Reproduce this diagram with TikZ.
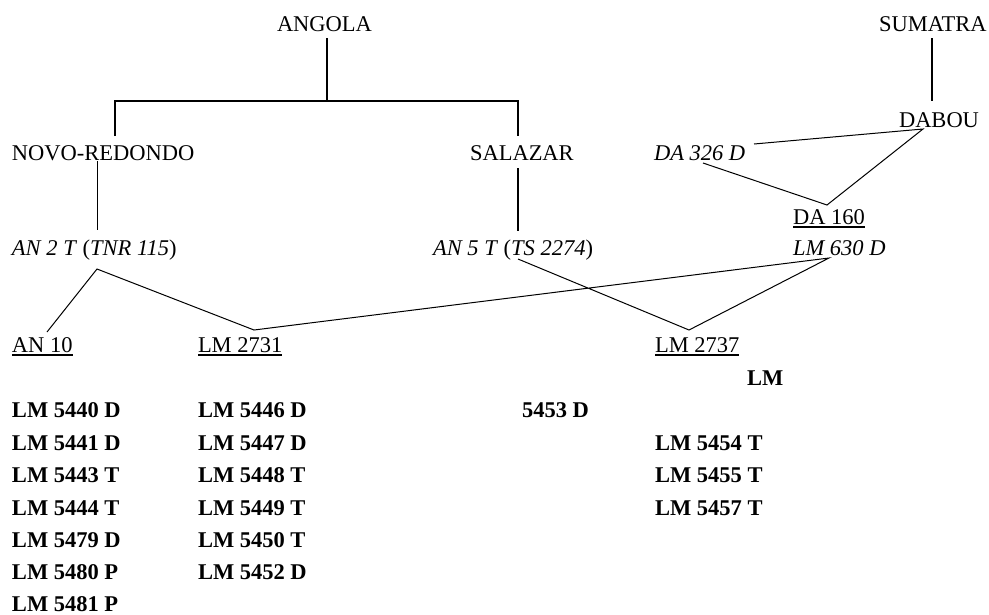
\documentclass[tikz,border=0pt]{standalone}
\usepackage{fontspec}
\setmainfont{Liberation Serif}
\newcommand\myul[1]{\leavevmode\vtop{\hbox{#1}\kern2.2pt\hrule height 1.4pt}}
\tikzset{
  lbl/.style={anchor=base west,inner sep=0pt,outer sep=0pt,font=\fontsize{22.5}{27}\selectfont},
  blbl/.style={lbl,font=\fontsize{22.5}{27}\selectfont\bfseries},
  thickline/.style={line width=2pt},
  thinline/.style={line width=1pt}
}
\begin{document}
\begin{tikzpicture}[x=1pt,y=-1pt]
\useasboundingbox (0,0) rectangle (989,614);
% top level
\node[lbl] (angola) at (277,31) {ANGOLA};
\node[lbl] (sumatra) at (879,31) {SUMATRA};
\node[lbl] (novo) at (12,160) {NOVO-REDONDO};
\node[lbl] (salazar) at (470,160) {SALAZAR};
\node[lbl] (dabou) at (899,127) {DABOU};
\node[lbl] (da326) at (654,160) {\textit{DA 326 D}};
\node[lbl] (da160) at (793,224) {\myul{DA 160}};
\node[lbl] (an2) at (12,255) {\textit{AN 2 T} (\textit{TNR 115})};
\node[lbl] (an5) at (433,255) {\textit{AN 5 T} (\textit{TS 2274})};
\node[lbl] (lm630) at (793,255) {\textit{LM 630 D}};
\node[lbl] (an10) at (12,352) {\myul{AN 10}};
\node[lbl] (lm2731) at (198,352) {\myul{LM 2731}};
\node[lbl] (lm2737) at (655,352) {\myul{LM 2737}};
% attachment points
\coordinate (angB) at (327,38);
\coordinate (angJ) at (327,101);
\coordinate (novT) at (115,136);
\coordinate (salT) at (518,136);
\coordinate (sumB) at (932,38);
\coordinate (dabT) at (932,101);
\coordinate (novB) at (97,161);
\coordinate (an2T) at (97,230);
\coordinate (salB) at (518,168);
\coordinate (an5T) at (518,231);
\coordinate (an2B) at (97,269);
\coordinate (an10T) at (47,332);
\coordinate (lm2731T) at (254,330);
\coordinate (lm630B) at (829,258);
\coordinate (an5B) at (518,259);
\coordinate (lm2737T) at (689,330);
\coordinate (dabB) at (923,129);
\coordinate (da326R) at (754,144);
\coordinate (da326B) at (703,163);
\coordinate (da160T) at (827,205);
% thick tree
\draw[thickline] (angB) -- (angJ);
\draw[thickline] (novT) |- (angJ) -| (salT);
\draw[thickline] (sumB) -- (dabT);
\draw[thickline] (salB) -- (an5T);
% thin lines
\draw[thinline] (novB) -- (an2T);
\draw[thinline] (an10T) -- (an2B) -- (lm2731T) -- (lm630B) -- (lm2737T) -- (an5B);
\draw[thinline] (da326R) -- (dabB) -- (da160T) -- (da326B);
% bold lists
\node[blbl] (lmh) at (747,385) {LM};
\node[blbl] (c1a) at (12,417) {LM 5440 D};
\node[blbl] (c1b) at (12,450) {LM 5441 D};
\node[blbl] (c1c) at (12,482) {LM 5443 T};
\node[blbl] (c1d) at (12,515) {LM 5444 T};
\node[blbl] (c1e) at (12,547) {LM 5479 D};
\node[blbl] (c1f) at (12,579) {LM 5480 P};
\node[blbl] (c1g) at (12,611) {LM 5481 P};
\node[blbl] (c2a) at (198,417) {LM 5446 D};
\node[blbl] (c2b) at (198,450) {LM 5447 D};
\node[blbl] (c2c) at (198,482) {LM 5448 T};
\node[blbl] (c2d) at (198,515) {LM 5449 T};
\node[blbl] (c2e) at (198,547) {LM 5450 T};
\node[blbl] (c2f) at (198,579) {LM 5452 D};
\node[blbl] (c3a) at (522,417) {5453 D};
\node[blbl] (c3b) at (655,450) {LM 5454 T};
\node[blbl] (c3c) at (655,482) {LM 5455 T};
\node[blbl] (c3d) at (655,515) {LM 5457 T};
\end{tikzpicture}
\end{document}
